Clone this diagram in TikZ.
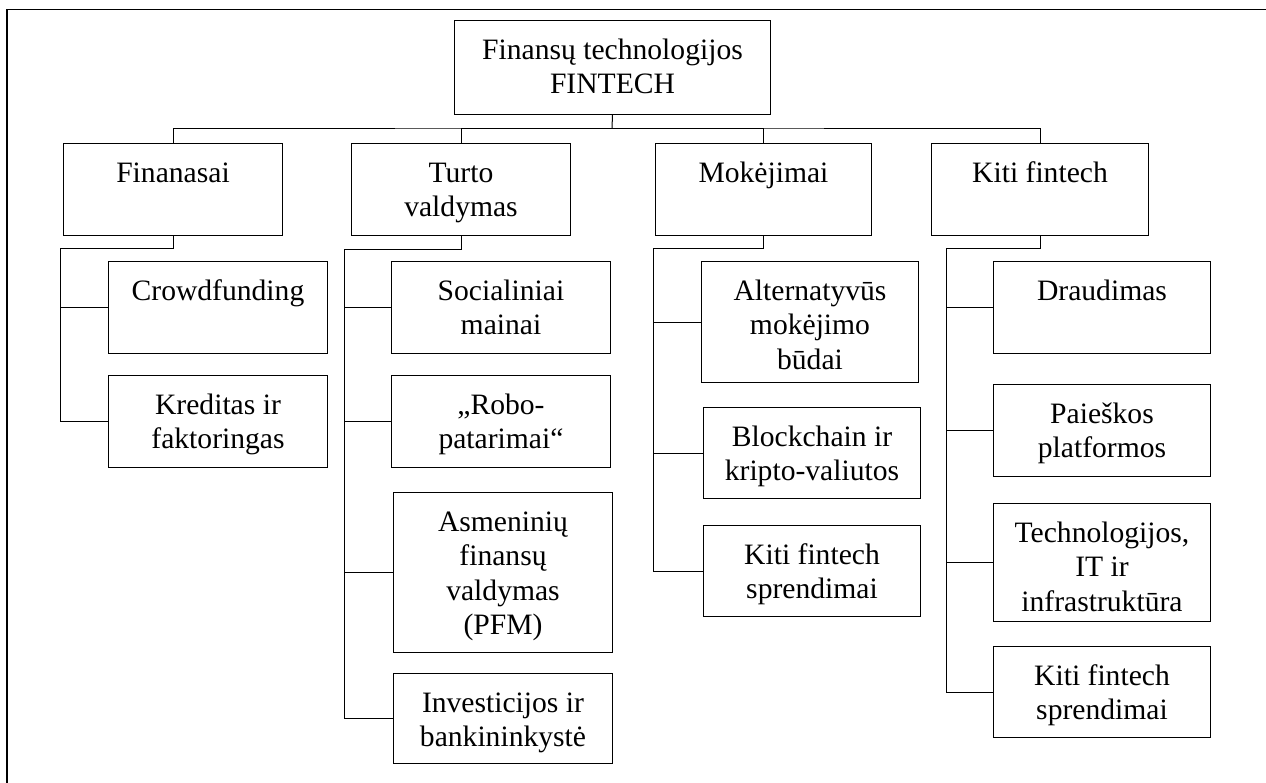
\documentclass[tikz,border=0pt]{standalone}
\usepackage{fontspec}
\setmainfont{Liberation Serif}
\usepackage{tikz}

\newlength{\pxu}
\setlength{\pxu}{0.5pt}
% box text: width, height, lines (set from the top of the box)
\newcommand{\celltext}[3]{\parbox[t][#2\pxu][t]{#1\pxu}{\centering\rule{0pt}{39\pxu}#3\par}}

\begin{document}
\begin{tikzpicture}[
  x=0.5pt, y=-0.5pt,
  cell/.style={
    draw,
    line width=0.5pt,
    inner sep=0pt,
    anchor=north west,
    font=\fontsize{14.8}{17.2}\selectfont
  },
  link/.style={draw, line width=0.5pt},
  frame/.style={draw, line width=0.8pt}
]
\useasboundingbox (0,0) rectangle (1266,783);
\draw[frame] (7,783) -- (7,9.5) -- (1266,9.5);

% top
\node[cell] (root) at (454,20) {\celltext{316}{94}{Finansų technologijos\\FINTECH}};

% first level
\node[cell] (fin)   at (63,143)  {\celltext{219}{92}{Finanasai}};
\node[cell] (turto) at (351,143) {\celltext{219}{92}{Turto\\valdymas}};
\node[cell] (mok)   at (655,143) {\celltext{216}{92}{Mokėjimai}};
\node[cell] (kiti)  at (931,143) {\celltext{217}{92}{Kiti fintech}};

% second level
\node[cell] (crowd) at (108,261) {\celltext{219}{92}{Crowdfunding}};
\node[cell] (kred)  at (108,375) {\celltext{219}{92}{Kreditas ir\\faktoringas}};

\node[cell] (soc)  at (391,261) {\celltext{219}{92}{Socialiniai\\mainai}};
\node[cell] (robo) at (391,375) {\celltext{219}{92}{„Robo-\\patarimai“}};
\node[cell] (asm)  at (393,492) {\celltext{219}{160}{Asmeninių\\finansų\\valdymas\\(PFM)}};
\node[cell] (inv)  at (393,673) {\celltext{219}{90}{Investicijos ir\\bankininkystė}};

\node[cell] (alt)   at (701,261) {\celltext{217}{121}{Alternatyvūs\\mokėjimo\\būdai}};
\node[cell] (block) at (703,407) {\celltext{217}{91}{Blockchain ir\\kripto-valiutos}};
\node[cell] (mksp)  at (703,525) {\celltext{217}{91}{Kiti fintech\\sprendimai}};

\node[cell] (draud) at (993,261) {\celltext{217}{92}{Draudimas}};
\node[cell] (paie)  at (993,384) {\celltext{217}{92}{Paieškos\\platformos}};
\node[cell] (tech)  at (993,503) {\celltext{217}{118}{Technologijos,\\IT ir\\infrastruktūra}};
\node[cell] (ktsp)  at (993,646) {\celltext{217}{91}{Kiti fintech\\sprendimai}};

% connectors
\coordinate (bus) at (612,128);
\draw[link] (root.south) -- (bus);
\draw[link] (fin.north) |- (bus) -| (kiti.north);
\foreach \n in {turto,mok}
  \draw[link] (\n.north) |- (bus);

\coordinate (finspine) at (60,248);
\coordinate (turspine) at (344,249);
\coordinate (mokspine) at (653,248);
\coordinate (kitspine) at (946,248);

\draw[link] (fin.south) |- (finspine);
\foreach \n in {crowd,kred}
  \draw[link] (finspine) |- (\n.west);

\draw[link] (turto.south) |- (turspine);
\foreach \n in {soc,robo,asm,inv}
  \draw[link] (turspine) |- (\n.west);

\draw[link] (mok.south) |- (mokspine);
\foreach \n in {alt,block,mksp}
  \draw[link] (mokspine) |- (\n.west);

\draw[link] (kiti.south) |- (kitspine);
\foreach \n in {draud,paie,tech,ktsp}
  \draw[link] (kitspine) |- (\n.west);
\end{tikzpicture}
\end{document}
